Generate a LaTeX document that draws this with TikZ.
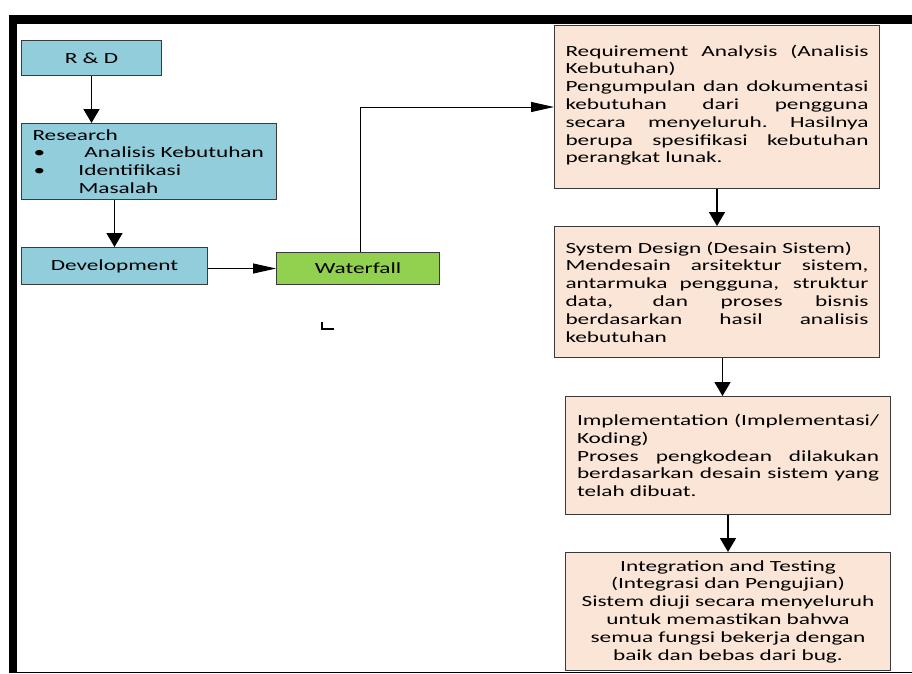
\documentclass[tikz,border=0pt]{standalone}
\usepackage{fontspec}
\setmainfont[FakeStretch=1.5]{Carlito}
\usetikzlibrary{arrows.meta}
\definecolor{rdblue}{HTML}{92CDDC}
\definecolor{wfgreen}{HTML}{92D050}
\definecolor{peach}{HTML}{FBE5D6}
\definecolor{edge}{HTML}{3A3A3A}
\newcommand{\jl}[2][303pt]{\makebox[#1][s]{\spaceskip=\fontdimen2\font plus 1fil
  \xspaceskip=\spaceskip #2}}
\begin{document}
\begin{tikzpicture}[x=1pt,y=-1pt,
  box/.style={draw=edge,line width=1pt,anchor=north west,inner sep=0pt,
    font=\fontsize{15.5}{17.8}\selectfont},
  blue/.style={box,fill=rdblue},
  phase/.style={box,fill=peach,inner xsep=11pt,text width=303pt,align=left},
  vArr/.style={line width=1.6pt,-{Triangle[length=14pt,width=16pt]}},
  hArr/.style={line width=1pt,-{Triangle[length=23pt,width=10pt]}}]
\useasboundingbox (0,0) rectangle (912,673);
% frame
\fill (9,15) rectangle (912,24);
\fill (9,15) rectangle (17,673);
\draw[line width=1pt] (17,672) -- (912,672);
% left column
\node[blue,minimum width=140pt,minimum height=35pt] (rnd) at (21,40) {R \& D};
\node[blue,inner xsep=11pt,text width=233pt,align=left,minimum height=76pt] (research) at (21,123)
  {Research\\
   \hspace{1pt}\makebox[51pt][l]{\textbullet}Analisis Kebutuhan\\
   \hspace{1pt}\makebox[45pt][l]{\textbullet}Identifikasi\\
   \hspace{46pt}Masalah};
\node[blue,minimum width=186pt,minimum height=37pt] (dev) at (21,247) {Development};
\node[box,fill=wfgreen,minimum width=163pt,minimum height=32pt] (wf) at (276,252) {Waterfall};
% waterfall phases
\node[phase,minimum height=163pt] (req) at (554,25)
  {\mbox{}\\[-10pt]
   \jl{Requirement Analysis (Analisis}\\Kebutuhan)\\
   \jl{Pengumpulan dan dokumentasi}\\\jl{kebutuhan dari pengguna}\\
   \jl{secara menyeluruh. Hasilnya}\\\jl{berupa spesifikasi kebutuhan}\\
   perangkat lunak.};
\node[phase,minimum height=131pt] (sys) at (554,226)
  {System Design (Desain Sistem)\\\jl{Mendesain arsitektur sistem,}\\
   \jl{antarmuka pengguna, struktur}\\\jl{data, dan proses bisnis}\\
   \jl{berdasarkan hasil analisis}\\kebutuhan};
\node[phase,inner xsep=11.5pt,text width=302pt,minimum height=118pt] (impl) at (565,396)
  {\jl[302pt]{Implementation (Implementasi/}\\Koding)\\
   \jl[302pt]{Proses pengkodean dilakukan}\\\jl[302pt]{berdasarkan desain sistem yang}\\
   telah dibuat.};
\node[phase,inner xsep=11.5pt,text width=302pt,align=center,minimum height=118pt] (integ) at (565,552)
  {Integration and Testing\\(Integrasi dan Pengujian)\\
   Sistem diuji secara menyeluruh\\untuk memastikan bahwa\\
   semua fungsi bekerja dengan\\baik dan bebas dari bug.};
% connectors
\draw[vArr] (rnd.south) -- (rnd.south |- research.north);
\draw[vArr] (dev.north |- research.south) -- (dev.north);
\draw[hArr] (dev.east |- wf.west) -- (wf.west);
\draw[hArr] ([xshift=2pt]wf.north) |- (req.west);
\draw[vArr] (req.south) -- (req.south |- sys.north);
\draw[vArr] ([xshift=5.5pt]sys.south) -- ([xshift=5.5pt]sys.south |- impl.north);
\draw[vArr] (impl.south) -- (integ.north);
% stray corner mark
\draw[line width=1.2pt] (322,322) -- (322,329) -- (334,329);
\end{tikzpicture}
\end{document}
